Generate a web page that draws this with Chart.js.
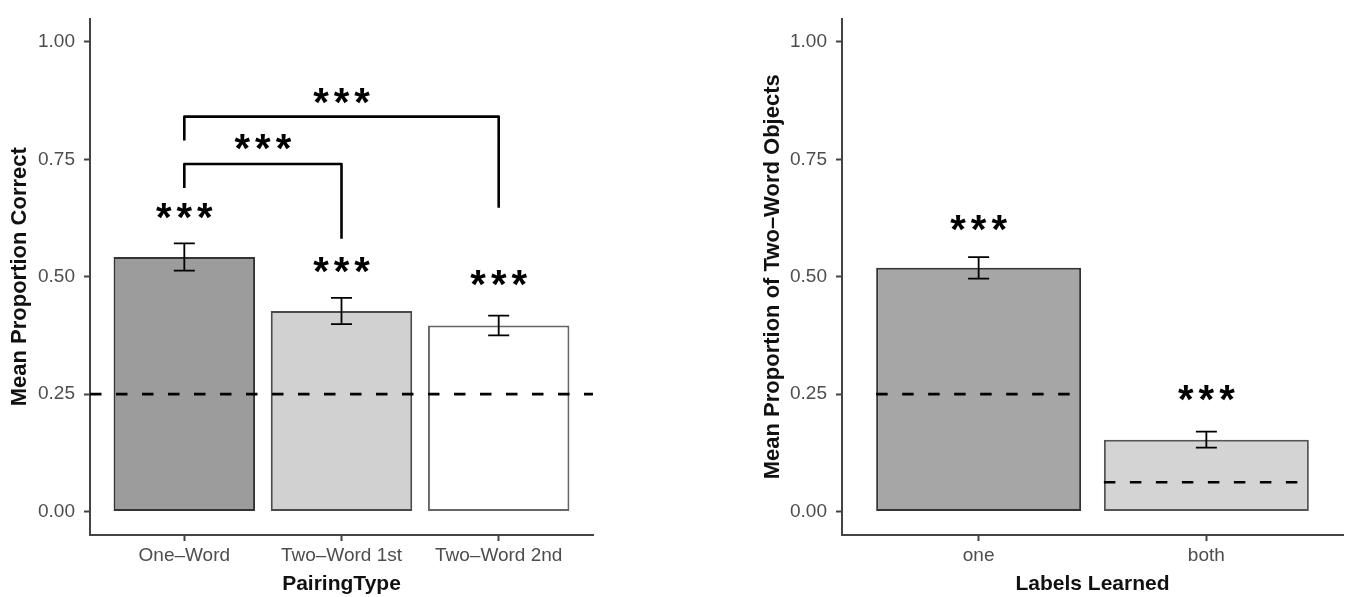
<!DOCTYPE html>
<html>
<head>
<meta charset="utf-8">
<script src="https://cdn.jsdelivr.net/npm/chart.js@4"></script>
<style>
    html, body { margin: 0; padding: 0; background: #ffffff; }
    .panel { position: absolute; top: 0; }
</style>
</head>
<body>
<div class="panel" style="left:0px"><canvas id="pairingGraph" width="620" height="597"></canvas></div>
<div class="panel" style="left:700px"><canvas id="labelsGraph" width="652" height="597"></canvas></div>
<script>
// left panel data
const pairingTypes = ["One–Word", "Two–Word 1st", "Two–Word 2nd"];
const pairingMeans = [0.542, 0.427, 0.396];
const pairingErrors = [0.029, 0.028, 0.021];
const pairingChance = 0.25;
const pairingStarLevels = [0.640, 0.525, 0.498];
// brackets: from category, to category, top, left foot, right foot, label height
const pairingBrackets = [
    [0, 1, 0.740, 0.689, 0.581, 0.787],
    [0, 2, 0.841, 0.790, 0.647, 0.885]
];

// right panel data
const labelsLearned = ["one", "both"];
const labelsMeans = [0.519, 0.153];
const labelsErrors = [0.023, 0.017];
const labelsChance = [0.25, 0.0625];
const labelsStarLevels = [0.615, 0.252];

// shared y axis
const yTicks = [0, 0.25, 0.5, 0.75, 1];
const yMin = -0.05;
const yMax = 1.05;

const starText = "***";
const fontFamily = '"Liberation Sans", Arial, Helvetica, sans-serif';

Chart.defaults.font.family = fontFamily;

// draws error bars, chance lines, brackets and stars on top of the bars
const overlayPlugin = {
    id: "overlay",
    afterDatasetsDraw(chart, args, opts) {
        const ctx = chart.ctx;
        const xs = chart.scales.x;
        const ys = chart.scales.y;
        const area = chart.chartArea;
        const meta = chart.getDatasetMeta(0);
        ctx.save();

        // chance lines
        ctx.strokeStyle = "#000000";
        ctx.lineWidth = 2.6;
        ctx.setLineDash([11.5, 14.5]);
        if (opts.chanceAll !== undefined) {
            const y = ys.getPixelForValue(opts.chanceAll);
            ctx.beginPath();
            ctx.moveTo(area.left, y);
            ctx.lineTo(area.right, y);
            ctx.stroke();
        }
        if (opts.chanceEach) {
            opts.chanceEach.forEach((c, i) => {
                const bar = meta.data[i];
                const half = bar.width / 2;
                const y = ys.getPixelForValue(c);
                ctx.beginPath();
                ctx.moveTo(bar.x - half, y);
                ctx.lineTo(bar.x + half, y);
                ctx.stroke();
            });
        }
        ctx.setLineDash([]);

        // error bars
        ctx.lineWidth = 1.8;
        opts.means.forEach((m, i) => {
            const x = xs.getPixelForValue(i);
            const top = ys.getPixelForValue(m + opts.errors[i]);
            const bottom = ys.getPixelForValue(m - opts.errors[i]);
            const cap = 10.5;
            ctx.beginPath();
            ctx.moveTo(x, top);
            ctx.lineTo(x, bottom);
            ctx.moveTo(x - cap, top);
            ctx.lineTo(x + cap, top);
            ctx.moveTo(x - cap, bottom);
            ctx.lineTo(x + cap, bottom);
            ctx.stroke();
        });

        // significance brackets
        ctx.lineWidth = 2.6;
        ctx.lineJoin = "round";
        (opts.brackets || []).forEach(b => {
            const x1 = xs.getPixelForValue(b[0]);
            const x2 = xs.getPixelForValue(b[1]);
            ctx.beginPath();
            ctx.moveTo(x1, ys.getPixelForValue(b[3]));
            ctx.lineTo(x1, ys.getPixelForValue(b[2]));
            ctx.lineTo(x2, ys.getPixelForValue(b[2]));
            ctx.lineTo(x2, ys.getPixelForValue(b[4]));
            ctx.stroke();
        });

        // stars
        ctx.fillStyle = "#000000";
        ctx.font = "bold 40px " + fontFamily;
        const spacing = 5;
        ctx.letterSpacing = spacing + "px";
        ctx.textAlign = "center";
        ctx.textBaseline = "alphabetic";
        const m = ctx.measureText(starText);
        const shift = (m.actualBoundingBoxAscent - m.actualBoundingBoxDescent) / 2;
        const draw_star = (xv, yv) => {
            ctx.fillText(starText, xs.getPixelForValue(xv) + spacing / 2, ys.getPixelForValue(yv) + shift);
        };
        opts.stars.forEach((s, i) => draw_star(i, s));
        (opts.brackets || []).forEach(b => draw_star((b[0] + b[1]) / 2, b[5]));
        ctx.restore();
    }
};

// build config for one panel
function _build_panel_config(categories, means, fills, borders, yTitle, xTitle, yWidth, yTitlePad, rightPad, overlay) {
    return {
        type: "bar",
        data: {
            datasets: [{
                data: means.map((v, i) => ({ x: i, y: v })),
                backgroundColor: fills,
                borderColor: borders,
                borderWidth: 2,
                borderSkipped: false,
                barPercentage: 0.9,
                categoryPercentage: 1.0
            }]
        },
        options: {
            responsive: false,
            animation: false,
            devicePixelRatio: 1,
            layout: { padding: { left: 0, right: rightPad, top: 10, bottom: 0 } },
            plugins: {
                legend: { display: false },
                tooltip: { enabled: false },
                overlay: overlay
            },
            scales: {
                x: {
                    type: "linear",
                    offset: false,
                    min: -0.6,
                    max: categories.length - 0.4,
                    afterBuildTicks: scale => { scale.ticks = categories.map((c, i) => ({ value: i })); },
                    afterFit: scale => { scale.height = 62; },
                    grid: { offset: false, drawOnChartArea: false, drawTicks: true, tickLength: 6, tickColor: "#444444", tickWidth: 2 },
                    border: { display: true, color: "#444444", width: 2 },
                    ticks: {
                        autoSkip: false,
                        maxRotation: 0,
                        padding: 5,
                        color: "#4d4d4d",
                        font: { size: 19, lineHeight: 1 },
                        callback: value => categories[value]
                    },
                    title: {
                        display: true,
                        text: xTitle,
                        color: "#111111",
                        font: { size: 21, weight: "bold", lineHeight: 1.2 },
                        padding: { top: 0, bottom: 0 }
                    }
                },
                y: {
                    type: "linear",
                    min: yMin,
                    max: yMax,
                    afterBuildTicks: scale => { scale.ticks = yTicks.map(v => ({ value: v })); },
                    afterFit: scale => { scale.width = yWidth; },
                    grid: { drawOnChartArea: false, drawTicks: true, tickLength: 6, tickColor: "#444444", tickWidth: 2 },
                    border: { display: true, color: "#444444", width: 2 },
                    ticks: {
                        padding: 9,
                        color: "#4d4d4d",
                        font: { size: 19, lineHeight: 1 },
                        callback: value => value.toFixed(2)
                    },
                    title: {
                        display: true,
                        text: yTitle,
                        color: "#111111",
                        font: { size: 22, weight: "bold", lineHeight: 1.2 },
                        padding: { top: yTitlePad, bottom: 0 }
                    }
                }
            }
        },
        plugins: [overlayPlugin]
    };
}

// left panel: proportion correct by pairing type
function create_pairing_graph() {
    const config = _build_panel_config(
        pairingTypes, pairingMeans,
        ["#9c9c9c", "#d1d1d1", "#ffffff"],
        ["#333333", "#4a4a4a", "#666666"],
        "Mean Proportion Correct", "PairingType",
        90, 6.8, 27,
        { means: pairingMeans, errors: pairingErrors, chanceAll: pairingChance, stars: pairingStarLevels, brackets: pairingBrackets }
    );
    return new Chart("pairingGraph", config);
}

// right panel: two-word objects by labels learned
function create_labels_graph() {
    const config = _build_panel_config(
        labelsLearned, labelsMeans,
        ["#a6a6a6", "#d4d4d4"],
        ["#333333", "#555555"],
        "Mean Proportion of Two–Word Objects", "Labels Learned",
        142, 59.8, 9,
        { means: labelsMeans, errors: labelsErrors, chanceEach: labelsChance, stars: labelsStarLevels }
    );
    return new Chart("labelsGraph", config);
}

create_pairing_graph();
create_labels_graph();
</script>
</body>
</html>
